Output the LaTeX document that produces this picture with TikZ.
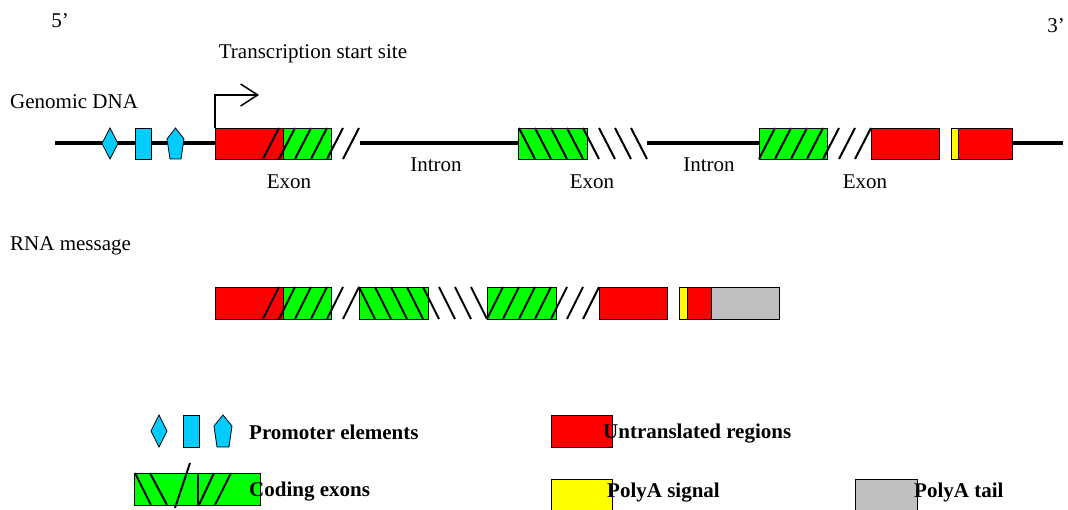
\documentclass[tikz,border=0pt]{standalone}
\usepackage{fontspec}
\setmainfont{Liberation Serif}
\usetikzlibrary{arrows.meta}
\definecolor{utr}{RGB}{255,0,0}
\definecolor{cds}{RGB}{0,255,0}
\definecolor{prom}{RGB}{0,204,255}
\definecolor{pas}{RGB}{255,255,0}
\definecolor{tail}{RGB}{192,192,192}
\begin{document}
\begin{tikzpicture}[x=1pt,y=-1pt,
  lbl/.style={font=\fontsize{21}{25}\selectfont, inner sep=0pt, anchor=base},
  lblw/.style={lbl, anchor=base west},
  key/.style={font=\fontsize{21}{25}\selectfont\bfseries, inner sep=0pt, anchor=base west},
  dna/.style={line width=4pt},
  hatch/.style={line width=2pt},
  box/.style={draw=black, line width=0.8pt},
  promoter/.style={box, fill=prom}]
\useasboundingbox (0,0) rectangle (1068,510);

% ---------- genomic DNA ----------
\draw[dna] (55,143.5) -- (215,143.5);
\draw[dna] (360,143.5) -- (518,143.5);
\draw[dna] (647,143.5) -- (759,143.5);
\draw[dna] (1012,143.5) -- (1063,143.5);

% promoter elements
\draw[promoter] (110,128) -- (118,143.5) -- (110,159) -- (102,143.5) -- cycle;
\draw[promoter] (135,128) rectangle (151,159);
\draw[promoter] (175.5,128) -- (184,139) -- (181,159) -- (170,159) -- (167,139) -- cycle;

% transcription start site
\draw[line width=1.5pt, -{Straight Barb[length=17pt,width=22pt,line width=1.5pt]}]
  (215,128) -- (215,95) -- (259,95);

% exon 1
\draw[box, fill=utr] (215,128) rectangle (283,159);
\draw[box, fill=cds] (283,128) rectangle (331,159);
\foreach \b in {263,279,...,343} \draw[hatch] (\b,159) -- (\b+16,128);

% exon 2
\draw[box, fill=cds] (518,128) rectangle (587,159);
\foreach \t in {519,535,...,631} \draw[hatch] (\t,128) -- (\t+16,159);

% exon 3
\draw[box, fill=cds] (759,128) rectangle (827,159);
\foreach \b in {759,775,...,855} \draw[hatch] (\b,159) -- (\b+16,128);
\draw[box, fill=utr] (871,128) rectangle (939,159);
\draw[box, fill=utr] (951,128) rectangle (1012,159);
\draw[box, fill=pas] (951,128) rectangle (958,159);

% labels
\node[lbl] (five) at (60,28) {5’};
\node[lbl] (three) at (1056,33) {3’};
\node[lbl] (tss) at (313,59) {Transcription start site};
\node[lblw] (gdna) at (10,109) {Genomic DNA};
\node[lbl] (intron1) at (436,172) {Intron};
\node[lbl] (intron2) at (709,172) {Intron};
\node[lbl] (exon1) at (289,189) {Exon};
\node[lbl] (exon2) at (592,189) {Exon};
\node[lbl] (exon3) at (865,189) {Exon};
\node[lblw] (rna) at (10,251) {RNA message};

% ---------- RNA message ----------
\draw[box, fill=utr] (215,287) rectangle (283,319);
\draw[box, fill=cds] (283,287) rectangle (331,319);
\foreach \b in {263,279,...,343} \draw[hatch] (\b,319) -- (\b+16,287);
\draw[box, fill=cds] (359,287) rectangle (428,319);
\foreach \t in {359,375,...,471} \draw[hatch] (\t,287) -- (\t+16,319);
\draw[box, fill=cds] (487,287) rectangle (556,319);
\foreach \b in {487,503,...,583} \draw[hatch] (\b,319) -- (\b+16,287);
\draw[box, fill=utr] (599,287) rectangle (667,319);
\draw[box, fill=pas] (679,287) rectangle (687,319);
\draw[box, fill=utr] (687,287) rectangle (711,319);
\draw[box, fill=tail] (711,287) rectangle (779,319);

% ---------- key ----------
\draw[promoter] (159,415) -- (167,431) -- (159,447) -- (151,431) -- cycle;
\draw[promoter] (183,415) rectangle (199,447);
\draw[promoter] (223,415) -- (232,426) -- (229,447) -- (217,447) -- (214,426) -- cycle;
\node[key] (kprom) at (249,439) {Promoter elements};

\draw[box, fill=cds] (134,473) rectangle (197,505);
\draw[box, fill=cds] (198,473) rectangle (260,505);
\draw[hatch] (135,473) -- (151,505);
\draw[hatch] (150,473) -- (167,505);
\draw[hatch] (190,463) -- (175,508);
\draw[hatch] (199,505) -- (214,473);
\draw[hatch] (215,505) -- (231,473);
\node[key] (kcds) at (249,496) {Coding exons};

\draw[box, fill=utr] (551,415) rectangle (612,447);
\node[key] (kutr) at (603,438) {Untranslated regions};

\draw[box, fill=pas] (551,479) rectangle (612,512);
\node[key] (kpas) at (607,497) {PolyA signal};

\draw[box, fill=tail] (855,479) rectangle (917,512);
\node[key] (ktail) at (914,497) {PolyA tail};
\end{tikzpicture}
\end{document}
